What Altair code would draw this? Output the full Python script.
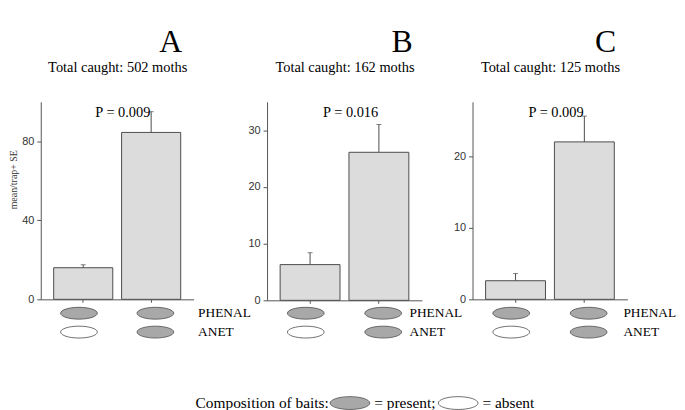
import altair as alt
import pandas as pd

# ---------------- data ----------------
panel_letters = ["A", "B", "C"]
panel_totals = ["Total caught: 502 moths", "Total caught: 162 moths", "Total caught: 125 moths"]
treatments = ["PHENAL", "PHENAL + ANET"]
mean_A = [16.0, 84.5]
se_A = [1.5, 10.5]
mean_B = [6.3, 26.1]
se_B = [2.1, 4.9]
mean_C = [2.6, 22.0]
se_C = [1.0, 3.6]
p_labels = ["P = 0.009", "P = 0.016", "P = 0.009"]
y_max = [100, 35, 27.6]
y_ticks = [[0, 40, 80], [0, 10, 20, 30], [0, 10, 20]]
bait_rows = ["PHENAL", "ANET"]
phenal_status = ["present", "present"]
anet_status = ["absent", "present"]
status_names = ["present", "absent"]

# ---------------- style / layout ----------------
SERIF = "Liberation Serif"
SANS = "Liberation Sans"
EDGE = "#4d4d4d"
AX = "#555555"
BAR = "#dcdcdc"
ELL_FILL = "#a8a8a8"
# wide ellipse path (x in [-2.2, 2.2]) so the legend rows stay short
ELLIPSE = "M -2.2 0 A 2.2 0.71 0 1 1 2.2 0 A 2.2 0.71 0 1 1 -2.2 0 Z"
ELL_SIZE = 283
LEG_SIZE = 331

H = 240
panel_widths = [228, 207, 200]
axis_lengths = [154, 156, 156]
zero_px = [199, 200, 199]
label_dx = [43, 26.5, 35]
title_dx = [17, 32.5, 34]
row_px = [213, 232]


def make_panel(i, means, ses):
    df = pd.DataFrame({"treatment": treatments, "mean": means, "se": ses})
    df["upper"] = df["mean"] + df["se"]

    xs = alt.Scale(domain=treatments, range=[0, axis_lengths[i]],
                   paddingInner=0.13, paddingOuter=0.19)
    x_axis = alt.Axis(title=None, labels=False, ticks=True, tickSize=3,
                      tickColor=AX, domainColor=AX, domainWidth=1,
                      offset=-(H - zero_px[i]), grid=False)
    X = alt.X("treatment:N", scale=xs, sort=treatments, axis=x_axis)
    X_none = alt.X("treatment:N", scale=xs, sort=treatments, axis=None)
    X_top = alt.X("treatment:N", scale=xs, sort=treatments,
                  axis=alt.Axis(orient="top", title=panel_totals[i], titleFont=SERIF,
                                titleFontSize=14.5, titleFontWeight="normal",
                                titleColor="black", titlePadding=28, labels=False,
                                ticks=False, domain=False, grid=False))

    ys = alt.Scale(domain=[0, y_max[i]], range=[zero_px[i], 0], nice=False, zero=False)
    axis_kw = dict(values=y_ticks[i], grid=False, tickSize=4, tickColor=AX,
                   domainColor=AX, domainWidth=1, labelFont=SANS, labelFontSize=11,
                   labelColor="#333333", labelPadding=3)
    if i == 0:
        y_axis = alt.Axis(title="mean/trap+ SE", titleFont=SERIF, titleFontSize=10,
                          titleFontWeight="normal", titleColor="#333333",
                          titleX=-22, titleY=78, **axis_kw)
    else:
        y_axis = alt.Axis(title=None, **axis_kw)

    bars = alt.Chart(df).mark_bar(fill=BAR, stroke=EDGE, strokeWidth=1).encode(
        x=X, y=alt.Y("mean:Q", scale=ys, axis=y_axis))
    err = alt.Chart(df).mark_rule(color=EDGE, strokeWidth=1).encode(
        x=X, y=alt.Y("mean:Q", scale=ys, axis=y_axis), y2="upper:Q")
    cap = alt.Chart(df).mark_tick(color=EDGE, thickness=1, size=5, orient="horizontal").encode(
        x=X, y=alt.Y("upper:Q", scale=ys, axis=y_axis))
    bar_layer = alt.layer(bars, err, cap)

    pdf = pd.DataFrame({"treatment": [treatments[1]], "label": [p_labels[i]]})
    ptext = alt.Chart(pdf).mark_text(align="right", baseline="middle", dx=-5,
                                     font=SERIF, fontSize=14.5, color="black").encode(
        x=X_top, y=alt.value(11), text="label:N")

    edf = pd.DataFrame({
        "treatment": treatments * 2,
        "ingredient": [bait_rows[0]] * 2 + [bait_rows[1]] * 2,
        "status": phenal_status + anet_status,
    })
    ey = alt.Y("ingredient:N", axis=None,
               scale=alt.Scale(type="point", domain=bait_rows, range=row_px, padding=0))
    legend = alt.Legend(
        title="Composition of baits:", orient="none", legendX=156, legendY=294,
        direction="horizontal", titleOrient="left", titleFont=SERIF, titleFontSize=15.5,
        titleFontWeight="normal", titleColor="black", titlePadding=11,
        labelFont=SERIF, labelFontSize=15.5, labelColor="black",
        labelExpr="datum.label == 'present' ? '= present;' : '= absent'",
        symbolType=ELLIPSE, symbolSize=LEG_SIZE, symbolStrokeColor=EDGE,
        symbolStrokeWidth=0.8, symbolOpacity=1, labelOffset=15, columnPadding=0)
    ell = alt.Chart(edf).mark_point(shape=ELLIPSE, size=ELL_SIZE, filled=True, stroke=EDGE,
                                    strokeWidth=0.8, opacity=1).encode(
        x=X_none, y=ey,
        fill=alt.Fill("status:N", scale=alt.Scale(domain=status_names,
                                                  range=[ELL_FILL, "#ffffff"]),
                      legend=legend))
    ldf = pd.DataFrame({"treatment": [treatments[1]] * 2, "ingredient": bait_rows})
    labs = alt.Chart(ldf).mark_text(align="left", baseline="middle", dx=label_dx[i],
                                    font=SERIF, fontSize=13.5, color="black").encode(
        x=X_none, y=ey, text="ingredient:N")
    ell_layer = alt.layer(ell, labs)

    return alt.layer(bar_layer, ell_layer, ptext).resolve_scale(
        y="independent", x="independent").properties(
        width=panel_widths[i], height=H,
        view=alt.ViewBackground(stroke="transparent", strokeWidth=0),
        title=alt.TitleParams(
            text=panel_letters[i], anchor="middle", frame="group",
            dx=title_dx[i], font=SERIF, fontSize=32, fontWeight="normal", color="black",
            offset=0))


pA = make_panel(0, mean_A, se_A)
pB = make_panel(1, mean_B, se_B)
pC = make_panel(2, mean_C, se_C)

chart = alt.hconcat(pA, pB, pC, spacing=0, bounds="flush").properties(
    padding={"left": 1, "top": 17, "right": 0, "bottom": 0},
    background="white",
).configure_view(stroke="transparent", strokeWidth=0)

chart.save("out.html", embed_options={"renderer": "svg", "actions": False})
